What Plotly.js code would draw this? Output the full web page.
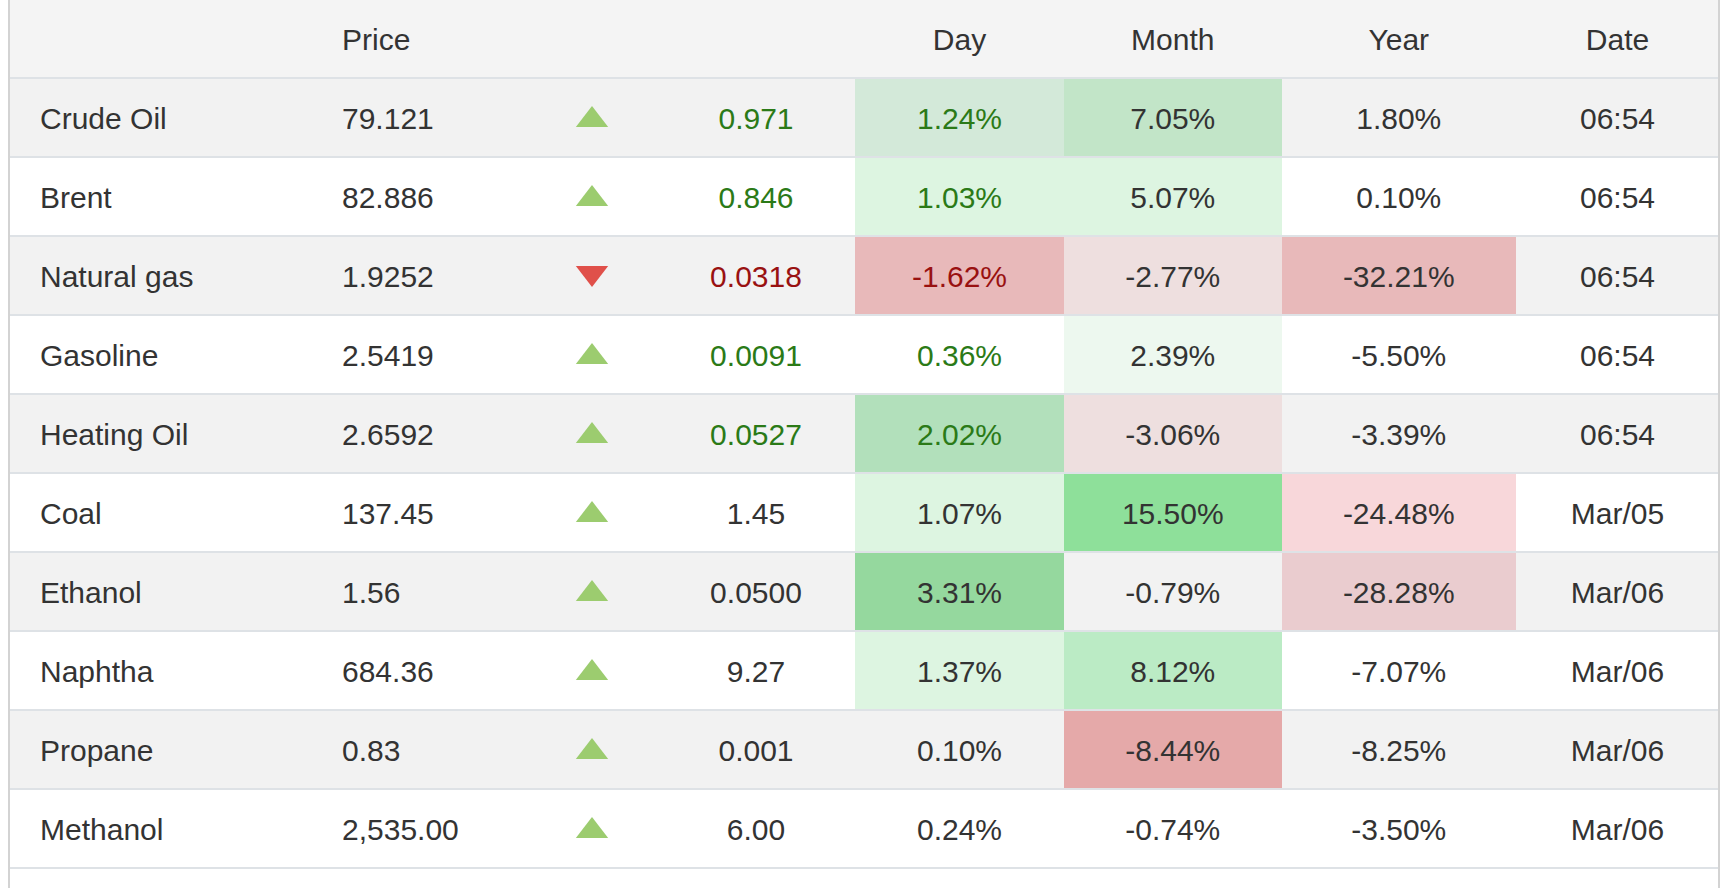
<!DOCTYPE html>
<html><head><meta charset="utf-8">
<script src="https://cdn.plot.ly/plotly-3.0.1.min.js"></script>
<style>html,body{margin:0;padding:0;background:#fff;overflow:hidden}#chart{width:1736px;height:888px}</style>
</head><body><div id="chart"></div>
<script>
// ---------- data ----------
const headers   = ['', 'Price', '', '', 'Day', 'Month', 'Year', 'Date'];
const names     = ['Crude Oil','Brent','Natural gas','Gasoline','Heating Oil','Coal','Ethanol','Naphtha','Propane','Methanol'];
const prices    = ['79.121','82.886','1.9252','2.5419','2.6592','137.45','1.56','684.36','0.83','2,535.00'];
const direction = ['up','up','down','up','up','up','up','up','up','up'];
const changes   = ['0.971','0.846','0.0318','0.0091','0.0527','1.45','0.0500','9.27','0.001','6.00'];
const dayPct    = ['1.24%','1.03%','-1.62%','0.36%','2.02%','1.07%','3.31%','1.37%','0.10%','0.24%'];
const monthPct  = ['7.05%','5.07%','-2.77%','2.39%','-3.06%','15.50%','-0.79%','8.12%','-8.44%','-0.74%'];
const yearPct   = ['1.80%','0.10%','-32.21%','-5.50%','-3.39%','-24.48%','-28.28%','-7.07%','-8.25%','-3.50%'];
const dates     = ['06:54','06:54','06:54','06:54','06:54','Mar/05','Mar/06','Mar/06','Mar/06','Mar/06'];

// ---------- styles ----------
const dayFill   = ['#d3e9d9','#ddf5e1','#e8b9ba',null,'#b2e0bb','#ddf5e1','#95d89e','#ddf5e1',null,null];
const monthFill = ['#c2e5c8','#ddf5e1','#eedfdf','#edf8ef','#eedfdf','#8ee09a',null,'#bbebc5','#e5a9a9',null];
const yearFill  = [null,null,'#e8b9ba',null,null,'#f8d7da','#eacccf',null,null,null];
const HEADER_BG = '#f4f4f4', ODD_BG = '#f2f2f2', EVEN_BG = '#ffffff';
const GRID = '#dee2e6', BORDER = '#d3d3d3', TXT = '#333333';
const UP_TXT = '#2b7a17', DOWN_TXT = '#991111', UP_TRI = '#9ccc6f', DOWN_TRI = '#e0504a';
const FONT = '"Liberation Sans", Arial, Helvetica, sans-serif', FS = 30;

// ---------- layout geometry ----------
const W = 1736, H = 888;
const colEdges = [9, 330, 527, 657, 855, 1064, 1281.5, 1516, 1719];
const HEADER_H = 78, ROW_H = 79;
const rowEdges = [0];
for (let i = 0; i <= names.length; i++) rowEdges.push(HEADER_H + i * ROW_H);
const rowMid = i => (rowEdges[i] + rowEdges[i + 1]) / 2;        // i: 0 header, 1.. rows
const colMid = j => (colEdges[j] + colEdges[j + 1]) / 2;
const NAME_X = 40, PRICE_X = 342, ARROW_X = 592, CHANGE_X = 756;
const TEXT_DY = 3.5, ARROW_DY = 2.5, HEADER_DY = 3;

// ---------- cell fills (heatmap) ----------
const palette = [];
const idx = c => { let k = palette.indexOf(c); if (k < 0) { palette.push(c); k = palette.length - 1; } return k; };
const z = [];
z.push(headers.map(() => idx(HEADER_BG)));
names.forEach((_, i) => {
  const base = i % 2 === 0 ? ODD_BG : EVEN_BG;
  const row = headers.map(() => idx(base));
  if (dayFill[i]) row[4] = idx(dayFill[i]);
  if (monthFill[i]) row[5] = idx(monthFill[i]);
  if (yearFill[i]) row[6] = idx(yearFill[i]);
  z.push(row);
});
const n = palette.length;
const colorscale = palette.map((c, k) => [k / (n - 1), c]);

const traces = [];
traces.push({
  type: 'heatmap', x: colEdges, y: rowEdges, z: z,
  colorscale: colorscale, zmin: 0, zmax: n - 1, showscale: false, hoverinfo: 'skip', zsmooth: false
});

// grid lines
const gx = [], gy = [];
for (let i = 1; i < rowEdges.length; i++) { gx.push(colEdges[0], colEdges[colEdges.length - 1], null); gy.push(rowEdges[i], rowEdges[i], null); }
traces.push({ type: 'scatter', mode: 'lines', x: gx, y: gy, line: { color: GRID, width: 2 }, hoverinfo: 'skip' });
traces.push({ type: 'scatter', mode: 'lines',
  x: [colEdges[0], colEdges[0], null, colEdges[colEdges.length - 1], colEdges[colEdges.length - 1]],
  y: [0, H, null, 0, H], line: { color: BORDER, width: 2 }, hoverinfo: 'skip' });

// arrows
const rowsY = names.map((_, i) => rowMid(i + 1));
traces.push({ type: 'scatter', mode: 'markers', x: names.map(() => ARROW_X),
  y: rowsY.map((y, i) => y + (direction[i] === 'up' ? ARROW_DY : -ARROW_DY)),
  marker: { symbol: direction.map(d => d === 'up' ? 'triangle-up' : 'triangle-down'),
            color: direction.map(d => d === 'up' ? UP_TRI : DOWN_TRI), size: 28, line: { width: 0 } },
  hoverinfo: 'skip' });

// text
const live = dates.map(d => d.includes(':'));
const signColor = direction.map((d, i) => live[i] ? (d === 'up' ? UP_TXT : DOWN_TXT) : TXT);
const ty = rowsY.map(y => y + TEXT_DY);
function textTrace(xs, ys, texts, pos, colors) {
  return { type: 'scatter', mode: 'text', x: xs, y: ys, text: texts, textposition: pos,
           textfont: { family: FONT, size: FS, color: colors }, hoverinfo: 'skip' };
}
const hy = rowMid(0) + HEADER_DY;
traces.push(textTrace([PRICE_X], [hy], [headers[1]], 'middle right', TXT));
traces.push(textTrace([4,5,6,7].map(colMid), [hy,hy,hy,hy], headers.slice(4), 'middle center', TXT));
traces.push(textTrace(names.map(() => NAME_X), ty, names, 'middle right', TXT));
traces.push(textTrace(names.map(() => PRICE_X), ty, prices, 'middle right', TXT));
traces.push(textTrace(names.map(() => CHANGE_X), ty, changes, 'middle center', signColor));
traces.push(textTrace(names.map(() => colMid(4)), ty, dayPct, 'middle center', signColor));
traces.push(textTrace(names.map(() => colMid(5)), ty, monthPct, 'middle center', TXT));
traces.push(textTrace(names.map(() => colMid(6)), ty, yearPct, 'middle center', TXT));
traces.push(textTrace(names.map(() => colMid(7)), ty, dates, 'middle center', TXT));

const layout = {
  width: W, height: H, margin: { l: 0, r: 0, t: 0, b: 0 }, showlegend: false,
  paper_bgcolor: '#ffffff', plot_bgcolor: '#ffffff',
  xaxis: { range: [0, W], visible: false, fixedrange: true },
  yaxis: { range: [H, 0], visible: false, fixedrange: true },
  font: { family: FONT, size: FS, color: TXT }
};
Plotly.newPlot('chart', traces, layout, { staticPlot: true, displayModeBar: false });
</script></body></html>
